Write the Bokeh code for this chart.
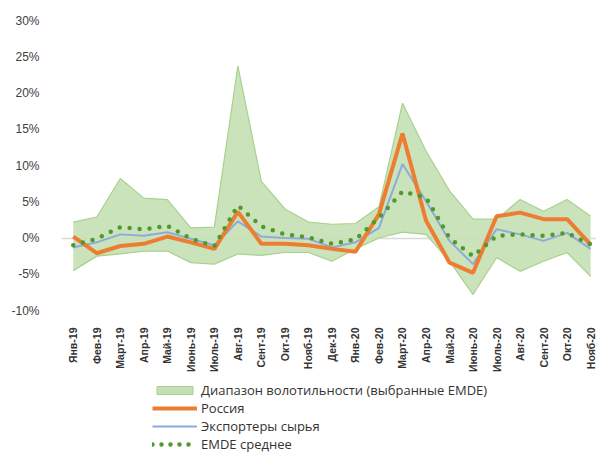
from bokeh.plotting import figure
from bokeh.models import Range1d, FixedTicker, Legend, LegendItem, ColumnDataSource
from bokeh.layouts import column
from bokeh.embed import file_html
from bokeh.resources import INLINE
import math

months = ["Янв-19", "Фев-19", "Март-19", "Апр-19", "Май-19", "Июнь-19", "Июль-19",
          "Авг-19", "Сент-19", "Окт-19", "Нояб-19", "Дек-19", "Янв-20", "Фев-20",
          "Март-20", "Апр-20", "Май-20", "Июнь-20", "Июль-20", "Авг-20", "Сент-20",
          "Окт-20", "Нояб-20"]

band_upper = [2.2, 2.9, 8.2, 5.5, 5.3, 1.4, 1.5, 23.7, 7.8, 4.0, 2.2, 1.9, 2.0, 4.3,
              18.6, 12.0, 6.5, 2.6, 2.6, 5.3, 3.7, 5.3, 3.0]
band_lower = [-4.5, -2.5, -2.2, -1.8, -1.8, -3.4, -3.6, -2.2, -2.4, -2.0, -2.0, -3.2,
              -1.5, 0.0, 0.8, 0.5, -3.2, -7.8, -2.7, -4.6, -3.2, -2.0, -5.3]
russia = [0.2, -2.1, -1.1, -0.8, 0.2, -0.6, -1.5, 3.6, -0.8, -0.8, -1.0, -1.5, -1.9,
          3.3, 14.4, 2.4, -3.4, -4.8, 3.0, 3.5, 2.6, 2.6, -0.9]
exporters = [-1.3, -0.6, 0.5, 0.3, 0.8, -0.1, -1.0, 2.3, 0.2, 0.0, -0.1, -1.3, -0.6,
             1.4, 10.2, 5.1, -0.4, -3.6, 1.2, 0.5, -0.4, 0.7, -1.5]
emde_avg = [-1.0, -0.1, 1.5, 1.2, 1.7, -0.1, -1.1, 4.5, 1.6, 0.5, 0.1, -0.8, -0.2,
            2.8, 6.4, 5.6, 0.0, -2.5, 0.3, 0.5, 0.3, 0.7, -0.9]
y_ticks = [-10, -5, 0, 5, 10, 15, 20, 25, 30]
legend_labels = ["Диапазон волотильности (выбранные EMDE)", "Россия",
                 "Экспортеры сырья", "EMDE среднее"]

BAND_FILL, BAND_EDGE = "#c5e0b4", "#a9d18e"
RU_COL, EX_COL, EM_COL = "#ed7d31", "#8faadc", "#4e9a2e"

x = list(range(len(months)))
src = ColumnDataSource(dict(x=x, up=band_upper, lo=band_lower, ru=russia,
                            ex=exporters, em=emde_avg))

p = figure(width=596, height=380, output_backend="svg", toolbar_location=None,
           x_range=Range1d(-0.5, 22.25), y_range=Range1d(-10, 30),
           min_border_left=61, min_border_right=0, min_border_top=20,
           min_border_bottom=70)
p.outline_line_color = None
p.background_fill_color = "white"
p.border_fill_color = "white"

p.xaxis.ticker = FixedTicker(ticks=x)
p.xaxis.major_label_overrides = {i: m for i, m in enumerate(months)}
p.xaxis.major_label_orientation = math.pi / 2
p.xaxis.axis_line_color = None
p.xaxis.major_tick_line_color = None
p.xaxis.minor_tick_line_color = None
p.xaxis.major_label_standoff = 11
p.xaxis.major_label_text_font = "Liberation Sans"
p.xaxis.major_label_text_font_style = "bold"
p.xaxis.major_label_text_font_size = "10.5px"
p.xaxis.major_label_text_color = "#333333"

p.yaxis.ticker = FixedTicker(ticks=y_ticks)
p.yaxis.major_label_overrides = {t: f"{t}%" for t in y_ticks}
p.yaxis.axis_line_color = None
p.yaxis.major_tick_line_color = None
p.yaxis.minor_tick_line_color = None
p.yaxis.major_label_standoff = 16
p.yaxis.major_label_text_font = "Liberation Sans"
p.yaxis.major_label_text_font_size = "12px"
p.yaxis.major_label_text_color = "#404040"

p.xgrid.grid_line_color = None
p.ygrid.ticker = FixedTicker(ticks=[0])
p.ygrid.grid_line_color = "#d9d9d9"
p.ygrid.grid_line_width = 1.5

p.varea(x="x", y1="lo", y2="up", source=src, fill_color=BAND_FILL, fill_alpha=0.9)
p.line(x="x", y="up", source=src, line_color=BAND_EDGE, line_width=1.2)
p.line(x="x", y="lo", source=src, line_color=BAND_EDGE, line_width=1.2)
p.line(x="x", y="ex", source=src, line_color=EX_COL, line_width=2)
p.line(x="x", y="ru", source=src, line_color=RU_COL, line_width=4)
p.line(x="x", y="em", source=src, line_color=EM_COL, line_width=4.5,
       line_dash="0 10", line_cap="round")

# legend panel: a separate figure below the chart, holding legend-only glyphs
nan = float("nan")
lf = figure(width=596, height=75, output_backend="svg", toolbar_location=None,
            x_axis_type=None, y_axis_type=None, min_border=0,
            x_range=Range1d(0, 1), y_range=Range1d(0, 1))
lf.outline_line_color = None
lf.grid.visible = False
g_band = lf.rect(x=[nan], y=[nan], width=1, height=1, fill_color=BAND_FILL,
                 line_color=BAND_EDGE, line_width=1)
g_ru = lf.line(x=[nan], y=[nan], line_color=RU_COL, line_width=4)
g_ex = lf.line(x=[nan], y=[nan], line_color=EX_COL, line_width=2)
g_em = lf.line(x=[nan], y=[nan], line_color=EM_COL, line_width=4.5,
               line_dash="0 9", line_cap="round")

legend = Legend(items=[LegendItem(label=l, renderers=[r]) for l, r in
                       zip(legend_labels, [g_band, g_ru, g_ex, g_em])],
                location=(91, 2), orientation="vertical")
legend.border_line_color = None
legend.background_fill_alpha = 0
legend.label_text_font = "Open Sans"
legend.label_text_font_size = "13px"
legend.label_text_color = "#333333"
legend.glyph_width = 45
legend.glyph_height = 10
legend.label_height = 18
legend.spacing = 0
legend.padding = 0
legend.margin = 0
legend.label_standoff = 4
lf.add_layout(legend)

layout = column(p, lf, spacing=0)
open("out.html", "w").write(file_html(layout, INLINE))
